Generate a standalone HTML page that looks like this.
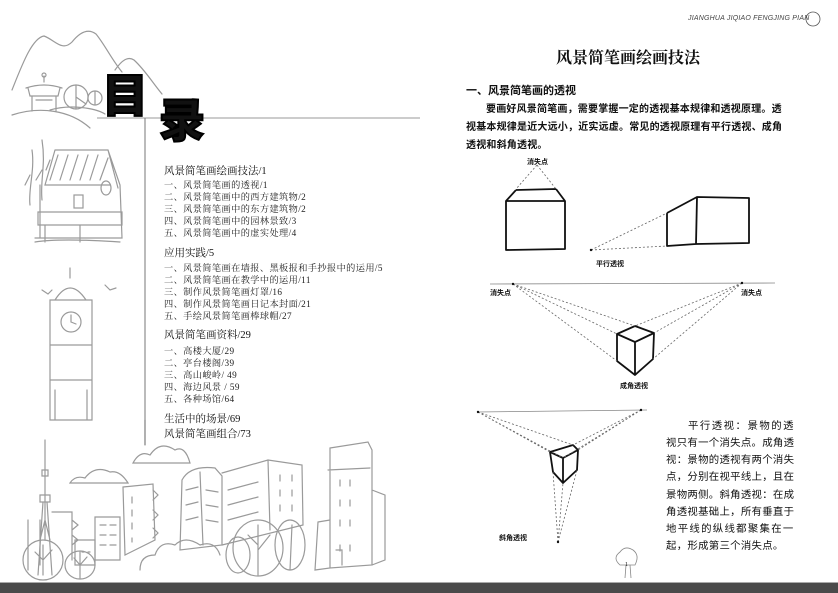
<!DOCTYPE html>
<html><head><meta charset="utf-8"><style>
*{margin:0;padding:0}
body{width:838px;height:592px;background:#fff;position:relative;overflow:hidden;font-family:"Liberation Serif","Noto Serif CJK SC","Noto Sans CJK SC",serif;color:#111}
.t{position:absolute;white-space:nowrap}
.h{font-size:10.5px}
.i{font-size:9.2px;color:#222;letter-spacing:0.4px}
.s{font-family:"Liberation Sans","Noto Sans CJK SC",sans-serif}
.pl{position:absolute;left:466px;white-space:nowrap;font-size:10px;letter-spacing:0.2px;font-weight:bold;font-family:"Liberation Sans","Noto Sans CJK SC",sans-serif}
.rl{position:absolute;left:666px;white-space:nowrap;font-size:10.4px;letter-spacing:0.3px;font-family:"Liberation Sans","Noto Sans CJK SC",sans-serif}
.lab{position:absolute;font-size:7px;font-weight:bold;font-family:"Liberation Sans","Noto Sans CJK SC",sans-serif;white-space:nowrap}
</style></head><body>
<svg width="838" height="592" style="position:absolute;left:0;top:0" fill="none">
<g stroke="#9a9a9a" stroke-width="1.2" stroke-linecap="round">
<path d="M12,90 C22,65 32,38 44,36 C55,40 62,52 72,42 C80,32 88,28 96,34 C105,45 112,60 122,72"/>
<path d="M115,70 C122,60 128,56 134,60 C145,70 152,82 162,94"/>
<path d="M12,115 C40,106 70,110 90,128"/><path d="M50,110 C70,104 95,108 105,114"/>
<path d="M26,88 Q44,82 62,88 M28,88 L30,96 L58,96 L60,88 M32,96 L32,111 M56,96 L56,111 M36,100 L52,100 M44,82 L44,76"/>
<circle cx="44" cy="75" r="2"/>
<circle cx="76" cy="97" r="12"/><path d="M76,85 L76,109 M76,97 L86,104"/>
<circle cx="95" cy="98" r="7"/><path d="M95,91 L95,105"/>
<path d="M55,150 L108,150 L120,185 L122,238 L35,238 M55,150 L45,185 L110,185 M108,150 L118,188 M40,185 L40,238 M58,155 L50,180 M68,155 L60,180 M78,155 L70,180 M88,155 L80,180 M98,155 L90,180 M108,158 L100,180"/>
<path d="M38,212 L122,212 L122,225 L38,225 Z M45,225 L45,242 M80,225 L80,242 M35,242 Q60,238 120,242"/>
<rect x="74" y="195" width="9" height="13"/><ellipse cx="106" cy="188" rx="5" ry="7"/>
<path d="M32,150 C35,170 28,190 30,205 M42,140 C46,165 40,180 42,200 M30,175 L25,185 M42,170 L36,180 M50,160 L46,170"/>
<path d="M70,268 L70,278 M55,300 Q70,276 86,300 Z M50,300 L92,300 L92,420 L50,420 Z M50,345 L92,345 M50,380 L92,380 M55,390 L55,420 M87,390 L87,420"/>
<circle cx="71" cy="322" r="10"/><path d="M71,322 L71,315 M71,322 L76,324"/>
<path d="M42,290 L48,294 L52,290 M105,285 L110,290 L116,288"/>
<path d="M45,440 L45,540 M40,540 L45,520 L50,540 M42,470 L48,470 L48,476 L42,476 Z M40,495 L50,495 L50,502 L40,502 Z M43,502 L38,575 M47,502 L52,575"/>
<path d="M133,463 Q140,450 150,455 Q160,440 175,450 Q185,445 190,463 Z"/>
<path d="M70,483 Q75,475 85,478 Q95,465 110,472 Q120,470 128,483 Z"/>
<path d="M145,420 L145,445"/>
<path d="M28,520 L28,570 M40,520 L40,565 M52,512 L72,512 L72,560 M72,520 L78,525 L72,530 M72,535 L78,540 L72,545"/>
<path d="M75,540 L95,540 L95,565 L75,565 Z M82,552 L84,552 M88,552 L90,552"/>
<path d="M95,517 L120,517 L120,560 L95,560 Z M100,525 L106,525 M110,525 L116,525 M100,535 L106,535 M110,535 L116,535 M100,545 L106,545 M110,545 L116,545"/>
<path d="M123,487 L153,484 L155,540 L125,555 Z M153,490 L158,495 L153,500 M153,510 L158,515 L153,520 M153,528 L158,533 L153,538"/>
<path d="M132,497 L132,503 M132,510 L132,516 M132,523 L132,529 M132,538 L132,542"/>
<path d="M182,480 Q190,465 215,468 L222,476 L222,545 L180,550 Z M200,472 L203,545 M186,490 L198,487 M186,505 L198,502 M186,520 L198,517 M206,490 L218,492 M206,505 L218,507 M206,520 L218,522"/>
<path d="M222,473 L268,460 L302,465 L303,525 L222,545 M268,460 L270,530 M228,490 L258,482 M228,505 L258,497 M228,520 L258,512 M280,475 L280,481 M292,475 L292,481 M280,490 L280,496 M292,490 L292,496 M280,505 L280,511 M292,505 L292,511"/>
<path d="M330,448 L368,442 L372,450 L372,565 L330,568 Z M328,470 L370,468 M372,490 L385,495 L385,560 L372,565 M318,522 L330,520 L330,568 L315,570 Z M340,480 L340,486 M350,480 L350,486 M340,500 L340,506 M350,500 L350,506 M340,520 L340,526 M350,520 L350,526 M340,545 L340,551 M350,545 L350,551 M336,550 L342,550 L342,565"/>
<ellipse cx="43" cy="560" rx="20" ry="20"/><path d="M43,575 L43,545 M43,560 L35,552 M43,560 L52,550"/>
<ellipse cx="80" cy="565" rx="15" ry="14"/><path d="M80,578 L80,552 M80,565 L74,558 M80,565 L87,557"/>
<ellipse cx="258" cy="548" rx="25" ry="28"/><path d="M258,575 L258,525 M258,545 L248,535 M258,550 L270,535"/>
<ellipse cx="290" cy="545" rx="15" ry="25"/><path d="M290,570 L292,525"/>
<ellipse cx="238" cy="555" rx="12" ry="18"/>
<path d="M140,570 Q140,555 155,555 Q160,540 175,545 Q185,535 200,545 Q215,540 220,555"/>
</g>
<path d="M97,118 L420,118" stroke="#999" stroke-width="1"/>
<path d="M145,118 L145,445" stroke="#777" stroke-width="1"/>
<g stroke="#111" stroke-width="1.8" stroke-linejoin="round">
<path d="M506,201 L565,201 L565,249 L506,250 Z M516,190 L556,189 M516,190 L506,201 M556,189 L565,201"/>
<path d="M697,197 L749,198 L749,243 L696,244 Z M667,213 L697,197 M667,213 L667,246 L696,244"/>
<path d="M635,326 L617,334 L635,342 L654,333 Z M617,334 L617,361 L635,375 L653,359 L654,333 M635,342 L635,375"/>
<path d="M550,452 L573,445 L578,450 L563,458 Z M550,452 L553,472 L563,483 L577,470 L578,450 M563,458 L563,483"/>
</g>
<g stroke="#666" stroke-width="0.8" stroke-dasharray="2,2">
<path d="M537,165 L516,189 M537,165 L556,189"/>
<path d="M591,250 L667,213 M591,250 L667,246"/>
<path d="M513,284 L635,326 M513,284 L617,334 M513,284 L617,361 M742,283 L635,326 M742,283 L654,333 M742,283 L653,359"/>
<path d="M478,412 L550,452 M478,412 L563,458 M478,412 L573,445 M641,410 L573,445 M641,410 L578,450 M641,410 L563,458 M558,542 L553,472 M558,542 L563,483 M558,542 L577,470"/>
</g>
<path d="M490,284 L775,283" stroke="#888" stroke-width="0.8"/>
<path d="M478,412 L647,410" stroke="#888" stroke-width="0.8"/>
<g fill="#111"><circle cx="591" cy="250" r="1.2"/><circle cx="513" cy="284" r="1.2"/><circle cx="742" cy="283" r="1.2"/><circle cx="478" cy="412" r="1.2"/><circle cx="641" cy="410" r="1.2"/><circle cx="558" cy="542" r="1.2"/></g>
<g stroke="#888" stroke-width="0.8"><path d="M620,565 Q612,558 620,552 Q625,545 633,550 Q640,555 635,565 Z M626,565 L625,578 M630,565 L631,578"/></g>
<circle cx="813" cy="19" r="7" stroke="#555" stroke-width="0.8"/>
</svg>
<div class="t" style="left:102px;top:70px;font-size:46px;font-weight:900;font-family:'Noto Sans CJK SC',sans-serif;line-height:1;-webkit-text-stroke:2px #000">目</div>
<div class="t" style="left:159px;top:95px;font-size:46px;font-weight:900;font-family:'Noto Sans CJK SC',sans-serif;line-height:1;-webkit-text-stroke:2px #000">录</div>

<div class="t h" style="left:164px;top:163px">风景简笔画绘画技法/1</div>
<div class="t i" style="left:164px;top:179px;line-height:12px">一、风景简笔画的透视/1<br>二、风景简笔画中的西方建筑物/2<br>三、风景简笔画中的东方建筑物/2<br>四、风景简笔画中的园林景致/3<br>五、风景简笔画中的虚实处理/4</div>
<div class="t h" style="left:164px;top:245px">应用实践/5</div>
<div class="t i" style="left:164px;top:262px;line-height:12px">一、风景简笔画在墙报、黑板报和手抄报中的运用/5<br>二、风景简笔画在教学中的运用/11<br>三、制作风景简笔画灯罩/16<br>四、制作风景简笔画日记本封面/21<br>五、手绘风景简笔画棒球帽/27</div>
<div class="t h" style="left:164px;top:327px">风景简笔画资料/29</div>
<div class="t i" style="left:164px;top:345px;line-height:12px">一、高楼大厦/29<br>二、亭台楼阁/39<br>三、高山峻岭/ 49<br>四、海边风景 / 59<br>五、各种场馆/64</div>
<div class="t h" style="left:164px;top:411px">生活中的场景/69</div>
<div class="t h" style="left:164px;top:426px">风景简笔画组合/73</div>

<div class="t s" style="left:688px;top:15px;font-size:7px;font-style:italic;color:#444;letter-spacing:0.2px">JIANGHUA JIQIAO FENGJING PIAN</div>
<div class="t" style="left:556px;top:45px;font-size:16px;font-weight:bold">风景简笔画绘画技法</div>
<div class="t s" style="left:466px;top:82px;font-size:11px;font-weight:bold">一、风景简笔画的透视</div>
<div class="pl" style="top:100px;left:486px">要画好风景简笔画，需要掌握一定的透视基本规律和透视原理。透</div>
<div class="pl" style="top:118px">视基本规律是近大远小，近实远虚。常见的透视原理有平行透视、成角</div>
<div class="pl" style="top:136px">透视和斜角透视。</div>

<div class="lab" style="left:527px;top:157px">消失点</div>
<div class="lab" style="left:596px;top:259px">平行透视</div>
<div class="lab" style="left:490px;top:288px">消失点</div>
<div class="lab" style="left:741px;top:288px">消失点</div>
<div class="lab" style="left:620px;top:381px">成角透视</div>
<div class="lab" style="left:499px;top:533px">斜角透视</div>

<div class="rl" style="top:417px;left:688px;letter-spacing:1.5px">平行透视：景物的透</div>
<div class="rl" style="top:434px">视只有一个消失点。成角透</div>
<div class="rl" style="top:451px">视：景物的透视有两个消失</div>
<div class="rl" style="top:468px">点，分别在视平线上，且在</div>
<div class="rl" style="top:486px">景物两侧。斜角透视：在成</div>
<div class="rl" style="top:503px">角透视基础上，所有垂直于</div>
<div class="rl" style="top:520px;letter-spacing:1.3px">地平线的纵线都聚集在一</div>
<div class="rl" style="top:537px">起，形成第三个消失点。</div>
<div class="t" style="left:625px;top:562px;font-size:6px">1</div>
<div style="position:absolute;left:0;top:582px;width:838px;height:10px;background:#4a4a4a;border-top:1px solid #aaa"></div>
</body></html>
